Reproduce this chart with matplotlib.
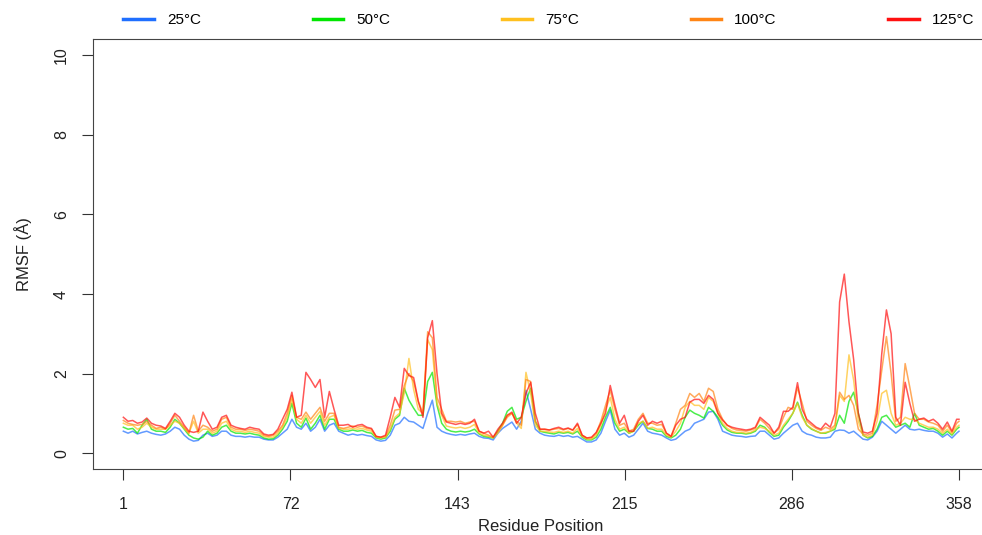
import numpy as np
import matplotlib
matplotlib.use("Agg")
import matplotlib.pyplot as plt
from matplotlib.lines import Line2D

plt.rcParams['font.family'] = ['Liberation Sans', 'DejaVu Sans']

# residue positions (every second residue, plus the last one)
residues = list(range(1, 358, 2)) + [358]

labels = ['25°C', '50°C', '75°C', '100°C', '125°C']
colors = ['#1f6fff', '#00e600', '#ffc01f', '#ff8515', '#ff1010']

rmsf_25 = [
    0.55, 0.5, 0.55, 0.48, 0.52, 0.55, 0.5, 0.47, 0.45, 0.48,
    0.55, 0.65, 0.6, 0.45, 0.35, 0.3, 0.32, 0.45, 0.5, 0.42,
    0.45, 0.55, 0.55, 0.45, 0.42, 0.42, 0.4, 0.42, 0.4, 0.4,
    0.35, 0.33, 0.33, 0.4, 0.5, 0.6, 0.85, 0.65, 0.6, 0.75,
    0.55, 0.65, 0.85, 0.55, 0.7, 0.75, 0.55, 0.5, 0.45, 0.48,
    0.45, 0.47, 0.44, 0.42, 0.33, 0.3, 0.32, 0.45, 0.7, 0.75,
    0.9, 0.8, 0.78, 0.7, 0.62, 1.0, 1.33, 0.65, 0.55, 0.5,
    0.47, 0.45, 0.47, 0.45, 0.48, 0.5, 0.42, 0.38, 0.37, 0.33,
    0.5, 0.62, 0.7, 0.78, 0.6, 0.8, 1.58, 1.1, 0.6, 0.5,
    0.45, 0.43, 0.42, 0.45, 0.42, 0.44, 0.4, 0.42, 0.35, 0.28,
    0.28, 0.33, 0.5, 0.8, 1.08, 0.6, 0.45, 0.5, 0.4, 0.45,
    0.6, 0.75, 0.55, 0.5, 0.48, 0.45, 0.38, 0.32, 0.35, 0.45,
    0.55, 0.6, 0.75, 0.8, 0.85, 1.03, 1.05, 0.85, 0.55, 0.5,
    0.45, 0.43, 0.42, 0.4, 0.42, 0.43, 0.55, 0.55, 0.45, 0.35,
    0.38, 0.5, 0.6, 0.7, 0.75, 0.55, 0.48, 0.45, 0.4, 0.38,
    0.38, 0.4, 0.55, 0.58, 0.57, 0.5, 0.55, 0.45, 0.35, 0.33,
    0.4, 0.55, 0.8, 0.7, 0.6, 0.5, 0.6, 0.7, 0.6, 0.58,
    0.6, 0.57, 0.55, 0.55, 0.5, 0.4, 0.48, 0.38, 0.5, 0.55,
]

rmsf_50 = [
    0.65, 0.6, 0.62, 0.5, 0.7, 0.85, 0.6, 0.55, 0.55, 0.52,
    0.65, 0.85, 0.75, 0.6, 0.45, 0.38, 0.35, 0.4, 0.55, 0.45,
    0.5, 0.65, 0.7, 0.55, 0.5, 0.5, 0.48, 0.5, 0.47, 0.45,
    0.38, 0.35, 0.36, 0.45, 0.6, 0.8, 1.25, 0.75, 0.65, 0.88,
    0.6, 0.75, 0.95, 0.6, 0.85, 0.85, 0.6, 0.55, 0.55, 0.58,
    0.55, 0.57, 0.52, 0.5, 0.38, 0.35, 0.38, 0.55, 0.85, 0.95,
    1.63, 1.33, 1.13, 0.95, 0.95, 1.8, 2.03, 1.2, 0.75, 0.6,
    0.55, 0.53, 0.55, 0.53, 0.55, 0.6, 0.48, 0.42, 0.4, 0.38,
    0.55, 0.75, 1.05, 1.15, 0.85, 0.9, 1.3, 1.63, 0.8, 0.55,
    0.52, 0.5, 0.48, 0.52, 0.5, 0.52, 0.48, 0.55, 0.4, 0.33,
    0.33, 0.4, 0.6, 0.9, 1.15, 0.75, 0.55, 0.6, 0.5, 0.55,
    0.7, 0.8, 0.62, 0.6, 0.55, 0.55, 0.42, 0.38, 0.45, 0.6,
    0.9, 1.08, 1.0, 0.95, 0.88, 1.15, 1.05, 0.9, 0.7, 0.58,
    0.52, 0.5, 0.5, 0.48, 0.5, 0.55, 0.7, 0.65, 0.52, 0.42,
    0.45, 0.65, 0.8, 1.0, 1.28, 0.95, 0.7, 0.6, 0.55, 0.5,
    0.5, 0.55, 0.6, 0.95, 0.75, 1.3, 1.53, 1.0, 0.45, 0.38,
    0.42, 0.6, 0.9, 0.95, 0.8, 0.65, 0.7, 0.75, 0.65, 1.0,
    0.7, 0.65, 0.6, 0.62, 0.55, 0.45, 0.55, 0.45, 0.6, 0.65,
]

rmsf_75 = [
    0.75, 0.7, 0.7, 0.6, 0.65, 0.75, 0.65, 0.6, 0.6, 0.6,
    0.7, 0.8, 0.75, 0.62, 0.5, 0.8, 0.5, 0.6, 0.6, 0.5,
    0.55, 0.75, 0.8, 0.6, 0.55, 0.55, 0.52, 0.55, 0.52, 0.5,
    0.42, 0.4, 0.4, 0.5, 0.65, 0.9, 1.35, 0.85, 0.75, 0.95,
    0.75, 0.9, 1.05, 0.7, 0.9, 0.95, 0.62, 0.6, 0.6, 0.62,
    0.6, 0.62, 0.58, 0.55, 0.4, 0.38, 0.4, 0.6, 0.9, 1.0,
    1.5, 2.38, 1.6, 1.1, 1.0, 2.85, 2.6, 1.25, 0.95, 0.68,
    0.65, 0.63, 0.65, 0.62, 0.65, 0.72, 0.5, 0.45, 0.42, 0.38,
    0.5, 0.7, 0.95, 1.0, 0.75, 0.62, 2.03, 1.5, 0.7, 0.55,
    0.55, 0.53, 0.52, 0.55, 0.52, 0.55, 0.5, 0.62, 0.42, 0.35,
    0.35, 0.45, 0.7, 1.1, 1.4, 0.85, 0.6, 0.65, 0.5, 0.55,
    0.75, 0.8, 0.62, 0.65, 0.6, 0.6, 0.45, 0.4, 0.55, 0.75,
    1.15, 1.3, 1.2, 1.2, 1.1, 1.4, 1.3, 1.0, 0.75, 0.62,
    0.55, 0.52, 0.52, 0.5, 0.52, 0.58, 0.65, 0.62, 0.55, 0.45,
    0.5, 0.7, 0.85, 1.0, 1.25, 0.9, 0.7, 0.62, 0.55, 0.5,
    0.52, 0.55, 0.65, 1.45, 1.3, 2.47, 1.83, 0.8, 0.45, 0.4,
    0.45, 0.8, 1.5, 1.58, 1.0, 0.7, 0.75, 0.9, 0.85, 0.85,
    0.75, 0.7, 0.65, 0.65, 0.6, 0.5, 0.6, 0.48, 0.65, 0.7,
]

rmsf_100 = [
    0.82, 0.75, 0.72, 0.7, 0.72, 0.8, 0.7, 0.62, 0.65, 0.6,
    0.75, 0.95, 0.8, 0.65, 0.5, 0.95, 0.55, 0.7, 0.65, 0.55,
    0.6, 0.85, 0.9, 0.65, 0.6, 0.6, 0.57, 0.6, 0.58, 0.55,
    0.45, 0.42, 0.45, 0.55, 0.7, 1.0, 1.45, 0.9, 0.85, 1.03,
    0.85, 1.0, 1.15, 0.8, 1.0, 1.0, 0.65, 0.62, 0.65, 0.68,
    0.65, 0.68, 0.62, 0.6, 0.42, 0.4, 0.42, 0.7, 1.08, 1.1,
    1.7, 2.0, 1.8, 1.3, 1.0, 3.05, 2.9, 1.4, 1.1, 0.8,
    0.8, 0.78, 0.8, 0.75, 0.78, 0.8, 0.55, 0.5, 0.45, 0.4,
    0.55, 0.7, 0.9, 1.0, 0.8, 0.7, 1.85, 1.8, 0.8, 0.6,
    0.6, 0.58, 0.6, 0.62, 0.58, 0.62, 0.57, 0.72, 0.45, 0.38,
    0.38, 0.5, 0.8, 1.2, 1.58, 1.1, 0.7, 0.75, 0.55, 0.6,
    0.85, 1.0, 0.75, 0.75, 0.7, 0.72, 0.5, 0.42, 0.75, 1.1,
    1.2, 1.5, 1.4, 1.5, 1.3, 1.63, 1.55, 1.1, 0.85, 0.7,
    0.62, 0.58, 0.57, 0.55, 0.58, 0.62, 0.85, 0.75, 0.62, 0.5,
    0.6, 0.9, 1.15, 1.1, 1.65, 1.25, 0.8, 0.7, 0.62, 0.57,
    0.65, 0.6, 0.7, 1.53, 1.35, 1.45, 1.2, 0.6, 0.48, 0.45,
    0.5, 1.2, 2.08, 2.93, 2.0, 0.8, 0.9, 2.25, 1.65, 1.0,
    0.85, 0.85, 0.78, 0.75, 0.7, 0.55, 0.7, 0.52, 0.75, 0.8,
]

rmsf_125 = [
    0.9, 0.8, 0.82, 0.75, 0.78, 0.88, 0.75, 0.7, 0.68, 0.62,
    0.8, 1.0, 0.9, 0.7, 0.55, 0.52, 0.55, 1.03, 0.8, 0.6,
    0.65, 0.9, 0.95, 0.7, 0.65, 0.62, 0.6, 0.65, 0.62, 0.6,
    0.48, 0.45, 0.47, 0.6, 0.85, 1.1, 1.53, 0.9, 0.95, 2.03,
    1.85, 1.65, 1.85, 0.9, 1.55, 1.1, 0.7, 0.7, 0.72, 0.65,
    0.7, 0.72, 0.65, 0.62, 0.42, 0.4, 0.45, 0.9, 1.4, 1.15,
    2.13, 1.95, 1.9, 1.3, 0.9, 2.9, 3.33, 2.0, 1.0, 0.78,
    0.75, 0.72, 0.75, 0.72, 0.75, 0.85, 0.55, 0.5, 0.55, 0.4,
    0.6, 0.75, 0.95, 1.03, 0.75, 0.9, 1.5, 1.78, 1.0, 0.6,
    0.6, 0.58, 0.62, 0.65, 0.6, 0.63, 0.58, 0.75, 0.45, 0.38,
    0.4, 0.52, 0.75, 1.0, 1.7, 1.2, 0.75, 0.95, 0.55, 0.55,
    0.8, 0.95, 0.7, 0.8, 0.75, 0.8, 0.5, 0.42, 0.7, 0.85,
    0.9, 1.28, 1.35, 1.35, 1.25, 1.45, 1.35, 1.0, 0.83, 0.7,
    0.65, 0.62, 0.6, 0.58, 0.6, 0.65, 0.9, 0.8, 0.7, 0.5,
    0.65, 1.05, 1.05, 1.15, 1.77, 1.1, 0.85, 0.75, 0.65, 0.6,
    0.75, 0.65, 1.0, 3.8, 4.5, 3.3, 2.35, 1.0, 0.53, 0.5,
    0.55, 1.0, 2.5, 3.6, 3.0, 0.9, 0.7, 1.78, 1.25, 0.8,
    0.85, 0.88, 0.8, 0.85, 0.75, 0.6, 0.78, 0.55, 0.85, 0.85,
]

series = [rmsf_25, rmsf_50, rmsf_75, rmsf_100, rmsf_125]

fig = plt.figure(figsize=(9.82, 5.35), dpi=100)
ax = fig.add_axes([0.0944, 0.1234, 0.9134, 0.8028])

for vals, col in zip(series, colors):
    ax.plot(residues, vals, color=col, lw=1.1, alpha=0.7)

ax.set_xlim(-12.1, 371.1)
ax.set_ylim(-0.4, 10.4)

# R-style pretty ticks: 6 evenly spaced positions, truncated labels
xt = np.linspace(1, 358, 6)
ax.set_xticks(xt)
ax.set_xticklabels([str(int(v)) for v in xt])
ax.set_yticks([0, 2, 4, 6, 8, 10])
ax.set_yticklabels(['0', '2', '4', '6', '8', '10'], rotation=90, va='center')

ax.tick_params(axis='both', direction='out', length=8, width=0.8,
               colors='#333333', labelcolor='#222222', labelsize=11.5)
ax.tick_params(axis='x', pad=12)
ax.tick_params(axis='y', pad=9)
for sp in ax.spines.values():
    sp.set_color('#444444')
    sp.set_linewidth(0.8)

ax.set_xlabel('Residue Position', fontsize=12, color='#222222', labelpad=5)
ax.set_ylabel('RMSF (Å)', fontsize=12, color='#222222', labelpad=16)

handles = [Line2D([], [], color=c, lw=2.5) for c in colors]
fig.legend(handles, labels, loc='center left', bbox_to_anchor=(0.1195, 0.962),
           ncol=5, frameon=False, fontsize=11, handlelength=2.0,
           handletextpad=0.85, columnspacing=7.3, borderaxespad=0)

fig.savefig('out.png', dpi=100)
